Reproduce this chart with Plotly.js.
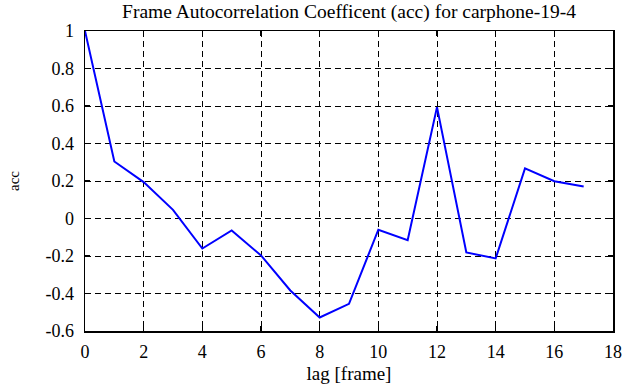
<!DOCTYPE html>
<html>
<head>
<meta charset="utf-8">
<script src="https://cdn.plot.ly/plotly-3.0.1.min.js"></script>
<style>html,body{margin:0;padding:0;background:#fff;}#chart{width:641px;height:387px;}</style>
</head>
<body>
<div id="chart"></div>
<script>
const lags = [0,1,2,3,4,5,6,7,8,9,10,11,12,13,14,15,16,17];
const acc = [1.0,0.304,0.194,0.046,-0.16,-0.064,-0.197,-0.384,-0.528,-0.455,-0.06,-0.116,0.594,-0.181,-0.213,0.267,0.199,0.171];
const xTickVals = [0,2,4,6,8,10,12,14,16,18];
const xTickText = ['0','2','4','6','8','10','12','14','16','18'];
const yTickVals = [1,0.8,0.6,0.4,0.2,0,-0.2,-0.4,-0.6];
const yTickText = ['1','0.8','0.6','0.4','0.2','0','-0.2','-0.4','-0.6'];

const FAM = 'Liberation Serif, Times New Roman, serif';

const trace = {
  x: lags, y: acc, type: 'scatter', mode: 'lines',
  line: {color: '#0000ff', width: 2}, hoverinfo: 'skip'
};

function axis(extra) {
  return Object.assign({
    showline: true, linecolor: '#000', linewidth: 1.5, mirror: 'ticks',
    ticks: 'inside', ticklen: 5, tickcolor: '#000', tickwidth: 1.5,
    showgrid: true, gridcolor: '#000', gridwidth: 1, griddash: '6px,4px',
    zeroline: false, tickfont: {family: FAM, size: 18, color: '#000'}
  }, extra);
}

const layout = {
  width: 641, height: 387,
  margin: {l: 85, r: 28, t: 31, b: 56},
  paper_bgcolor: '#fff', plot_bgcolor: '#fff',
  font: {family: FAM, size: 18, color: '#000'},
  showlegend: false,
  title: {text: 'Frame Autocorrelation Coefficent (acc) for carphone-19-4', font: {family: FAM, size: 19.5, color: '#000'}, xref: 'paper', x: 0.5, xanchor: 'center', y: 0.971, yanchor: 'middle'},
  xaxis: axis({
    range: [0, 18], tickmode: 'array', tickvals: xTickVals, ticktext: xTickText,
    ticklabelstandoff: 4,
    title: {text: 'lag [frame]', font: {family: FAM, size: 19, color: '#000'}, standoff: 5}
  }),
  yaxis: axis({
    range: [-0.6, 1], tickmode: 'array', tickvals: yTickVals, ticktext: yTickText,
    ticklabelstandoff: 6,
    title: {text: 'acc', font: {family: FAM, size: 15, color: '#000'}, standoff: 22}
  })
};

Plotly.newPlot('chart', [trace], layout, {displayModeBar: false, staticPlot: true});
</script>
</body>
</html>
